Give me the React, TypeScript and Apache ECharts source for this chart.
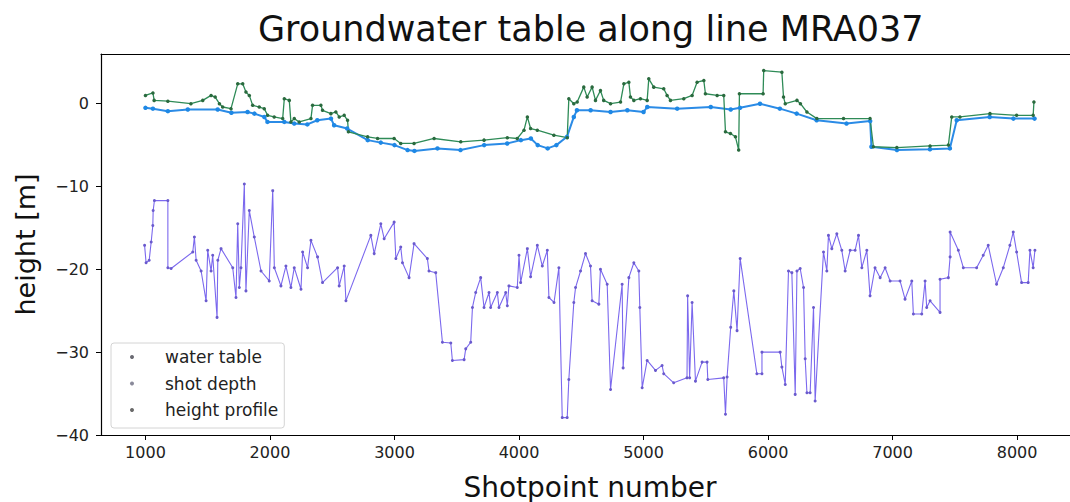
import React, { useEffect, useRef } from "react";
import * as echarts from "echarts";

// [shotpoint, height in m]
const waterTable: [number, number][] = [
  [1000, -0.5], [1060, -0.6], [1180, -0.9], [1340, -0.7], [1580, -0.7], [1690, -1.1],
  [1820, -1.0], [1875, -1.2], [1955, -1.6], [1980, -2.2], [2115, -2.2], [2195, -2.4],
  [2300, -2.5], [2380, -2.0], [2490, -1.8], [2515, -2.6], [2620, -3.0], [2785, -4.4],
  [2890, -4.7], [3000, -5.0], [3105, -5.6], [3160, -5.7], [3345, -5.4], [3530, -5.6],
  [3720, -5.0], [3905, -4.8], [4015, -4.4], [4095, -4.2], [4150, -5.0], [4230, -5.4],
  [4300, -5.0], [4385, -4.0], [4440, -1.6], [4465, -0.8], [4575, -0.8], [4735, -1.0],
  [4870, -0.8], [5000, -1.0], [5030, -0.4], [5270, -0.6], [5540, -0.4], [5700, -0.7],
  [5775, -0.5], [5935, 0.0], [6095, -0.6], [6230, -1.2], [6390, -2.0], [6630, -2.4],
  [6820, -2.1], [6830, -5.2], [7035, -5.6], [7300, -5.5], [7460, -5.4], [7515, -2.0],
  [7780, -1.6], [7970, -1.8], [8140, -1.8],
];

const shotDepth: [number, number][] = [
  [993, -17.1], [1005, -19.2], [1030, -18.9], [1046, -16.7], [1059, -14.7], [1062, -12.9],
  [1072, -11.7], [1180, -11.7], [1180, -19.8], [1206, -19.9], [1380, -17.9], [1393, -16.1],
  [1407, -18.9], [1447, -20.2], [1487, -23.8], [1500, -17.7], [1527, -20.2], [1540, -18.3],
  [1575, -25.8], [1581, -18.9], [1607, -17.5], [1701, -19.8], [1727, -23.4], [1741, -14.5],
  [1754, -22.2], [1767, -19.8], [1794, -9.7], [1807, -22.6], [1834, -12.9], [1874, -16.1],
  [1928, -20.2], [1994, -21.4], [2022, -10.5], [2035, -19.8], [2088, -22.0], [2128, -19.6],
  [2168, -22.2], [2195, -19.8], [2249, -22.4], [2262, -17.9], [2302, -19.8], [2329, -16.5],
  [2382, -18.5], [2422, -21.6], [2543, -19.8], [2556, -22.0], [2596, -19.6], [2610, -23.8],
  [2810, -15.9], [2837, -18.1], [2890, -14.5], [2917, -16.3], [2997, -14.3], [3011, -18.7],
  [3050, -17.3], [3064, -19.2], [3117, -21.0], [3157, -16.9], [3264, -18.7], [3277, -20.2],
  [3331, -20.4], [3385, -28.8], [3452, -28.9], [3465, -31.0], [3559, -30.9], [3572, -29.6],
  [3612, -28.8], [3626, -24.6], [3652, -22.8], [3692, -21.0], [3719, -24.6], [3759, -22.8],
  [3772, -24.6], [3826, -22.8], [3839, -24.6], [3893, -22.8], [3906, -24.4], [3919, -22.0],
  [3986, -22.2], [4000, -18.3], [4013, -21.6], [4067, -17.5], [4093, -20.9], [4147, -17.1],
  [4187, -19.6], [4227, -17.7], [4240, -23.4], [4281, -24.0], [4320, -19.8], [4347, -37.9],
  [4387, -37.9], [4400, -33.3], [4440, -24.0], [4454, -22.2], [4494, -20.2], [4534, -18.1],
  [4574, -19.6], [4587, -23.8], [4641, -24.2], [4654, -20.0], [4708, -21.8], [4735, -34.5],
  [4828, -21.8], [4836, -31.9], [4882, -21.0], [4922, -19.2], [4962, -20.2], [4970, -24.6],
  [4989, -34.3], [5029, -31.0], [5096, -32.2], [5149, -31.6], [5162, -32.6], [5242, -33.7],
  [5349, -33.1], [5354, -23.2], [5370, -33.1], [5390, -24.0], [5417, -33.5], [5470, -31.2],
  [5510, -31.2], [5516, -33.3], [5644, -33.1], [5658, -37.5], [5671, -33.0], [5700, -27.0],
  [5725, -22.6], [5751, -27.4], [5776, -18.7], [5910, -32.6], [5951, -32.6], [5951, -30.0],
  [6097, -30.0], [6111, -31.8], [6138, -33.9], [6164, -20.2], [6191, -20.4], [6218, -35.1],
  [6232, -20.2], [6258, -19.9], [6285, -22.2], [6298, -30.8], [6312, -34.9], [6338, -34.9],
  [6365, -24.6], [6378, -35.9], [6445, -17.9], [6472, -20.2], [6485, -15.9], [6512, -17.5],
  [6552, -15.7], [6592, -17.7], [6619, -20.2], [6659, -17.7], [6699, -17.7], [6726, -15.9],
  [6753, -19.8], [6793, -17.7], [6819, -23.2], [6859, -19.8], [6900, -21.0], [6940, -19.8],
  [6980, -21.4], [7060, -21.4], [7100, -23.6], [7154, -21.4], [7167, -25.4], [7234, -25.4],
  [7261, -21.4], [7274, -24.6], [7301, -23.8], [7381, -25.2], [7381, -21.2], [7448, -21.0],
  [7462, -18.5], [7462, -15.5], [7528, -17.7], [7568, -19.8], [7675, -19.8], [7728, -18.3],
  [7768, -17.1], [7835, -21.8], [7889, -19.8], [7942, -17.1], [7969, -15.5], [7996, -17.9],
  [8036, -21.6], [8089, -21.6], [8103, -17.7], [8129, -19.8], [8143, -17.7],
];

const heightProfile: [number, number][] = [
  [1000, 1.0], [1060, 1.3], [1070, 0.4], [1180, 0.3], [1365, 0.0], [1460, 0.4],
  [1527, 1.0], [1560, 0.8], [1594, 0.0], [1620, -0.4], [1687, -0.6], [1741, 2.4],
  [1781, 2.4], [1807, 1.4], [1834, 1.0], [1861, -0.2], [1914, -0.4], [1954, -0.6],
  [1981, -1.4], [2034, -1.6], [2102, -1.8], [2115, 0.6], [2155, 0.4], [2168, -2.2],
  [2195, -1.8], [2235, -2.2], [2329, -1.8], [2342, -0.2], [2409, -0.2], [2422, -0.8],
  [2489, -1.2], [2529, -1.0], [2556, -1.6], [2596, -1.4], [2623, -2.0], [2630, -3.4],
  [2784, -4.0], [2864, -4.2], [2997, -4.2], [3050, -4.8], [3157, -4.8], [3318, -4.2],
  [3532, -4.6], [3719, -4.4], [3906, -4.1], [3986, -4.2], [4040, -3.2], [4067, -1.6],
  [4093, -3.0], [4147, -3.2], [4280, -3.8], [4387, -4.1], [4400, 0.6], [4440, 0.0],
  [4467, 0.2], [4520, 2.0], [4547, 0.8], [4587, 2.0], [4614, 0.4], [4654, 1.6],
  [4680, 0.4], [4735, 0.0], [4815, 0.2], [4842, 2.4], [4882, 2.6], [4895, 0.8],
  [4922, 0.4], [4975, 0.6], [5029, 0.4], [5042, 3.0], [5082, 2.0], [5162, 1.8],
  [5189, 1.0], [5216, 0.4], [5323, 0.6], [5390, 1.0], [5430, 2.6], [5484, 2.8],
  [5497, 1.2], [5591, 1.0], [5644, 1.0], [5658, -3.4], [5698, -3.6], [5738, -4.0],
  [5764, -5.6], [5770, 1.2], [5960, 1.2], [5965, 4.0], [6111, 3.8], [6124, 0.8],
  [6138, 0.0], [6232, 0.4], [6260, 0.0], [6312, -1.0], [6392, -1.8], [6606, -1.8],
  [6819, -1.8], [6846, -5.2], [7034, -5.3], [7301, -5.1], [7448, -5.0], [7475, -1.6],
  [7541, -1.6], [7782, -1.2], [7996, -1.4], [8129, -1.4], [8135, 0.2],
];

const xTicks = [1000, 2000, 3000, 4000, 5000, 6000, 7000, 8000];
const yTicks = [-40, -30, -20, -10, 0];

const FONT = "DejaVu Sans";

export default function App() {
  const ref = useRef<HTMLDivElement>(null);

  useEffect(() => {
    if (!ref.current) return;
    const chart = echarts.init(ref.current, undefined, { renderer: "svg" });

    const lineSeries = (
      name: string,
      data: [number, number][],
      lineColor: string,
      markColor: string,
      lineWidth: number,
      symbolSize: number
    ) => ({
      name,
      type: "line",
      data,
      showSymbol: true,
      symbol: "circle",
      symbolSize,
      lineStyle: { color: lineColor, width: lineWidth },
      itemStyle: { color: markColor, borderWidth: 0 },
      emphasis: { disabled: true },
      z: 2,
    });

    const spine = { show: true, onZero: false, lineStyle: { color: "#000", width: 1.2 } };

    chart.setOption({
      animation: false,
      backgroundColor: "#ffffff",
      title: {
        text: "Groundwater table along line MRA037",
        left: 258,
        top: 11,
        padding: 0,
        textStyle: { fontFamily: FONT, fontSize: 35, fontWeight: "normal", color: "#111" },
      },
      grid: {
        left: 101,
        top: 54,
        width: 978,
        height: 381,
        outerBoundsMode: "none",
        containLabel: false,
        show: false,
      },
      legend: {
        orient: "vertical",
        left: 111,
        top: 343,
        padding: [4, 6, 8, 19],
        itemWidth: 4,
        itemHeight: 4,
        itemGap: 6.5,
        icon: "circle",
        backgroundColor: "rgba(255,255,255,0.85)",
        borderColor: "#d4d4d4",
        borderWidth: 1,
        borderRadius: 3,
        textStyle: {
          fontFamily: FONT,
          fontSize: 17,
          color: "#222",
          lineHeight: 20,
          padding: [0, 0, 0, 26],
        },
        data: [
          { name: "water table", itemStyle: { color: "#6a6a72" } },
          { name: "shot depth", itemStyle: { color: "#8a8a9a" } },
          { name: "height profile", itemStyle: { color: "#6a6a6a" } },
        ],
      },
      xAxis: [
        {
          type: "value",
          position: "bottom",
          min: 643,
          max: 8497,
          name: "Shotpoint number",
          nameLocation: "middle",
          nameGap: 38,
          nameTextStyle: { fontFamily: FONT, fontSize: 28, color: "#111" },
          axisLine: spine,
          axisTick: { show: true, length: 5, customValues: xTicks, lineStyle: { color: "#000" } },
          axisLabel: {
            customValues: xTicks,
            margin: 9,
            fontFamily: FONT,
            fontSize: 16,
            color: "#222",
            formatter: (v: number) => String(v),
          },
          splitLine: { show: false },
        },
        {
          // top frame line
          type: "value",
          position: "top",
          min: 643,
          max: 8497,
          axisLine: spine,
          axisTick: { show: false },
          axisLabel: { show: false },
          splitLine: { show: false },
        },
      ],
      yAxis: {
        type: "value",
        min: -40,
        max: 6,
        name: "height [m]",
        nameLocation: "middle",
        nameGap: 62,
        nameRotate: 90,
        nameTextStyle: { fontFamily: FONT, fontSize: 27, color: "#111" },
        axisLine: spine,
        axisTick: { show: true, length: 5, customValues: yTicks, lineStyle: { color: "#000" } },
        axisLabel: {
          customValues: yTicks,
          margin: 12,
          fontFamily: FONT,
          fontSize: 16,
          color: "#222",
          formatter: (v: number) => (v < 0 ? "\u2212" + Math.abs(v) : String(v)),
        },
        splitLine: { show: false },
      },
      series: [
        lineSeries("water table", waterTable, "#2b8be6", "#1e88e5", 2, 4.5),
        lineSeries("shot depth", shotDepth, "#7b68ee", "#6a5acd", 1.1, 3),
        lineSeries("height profile", heightProfile, "#2e8b57", "#2a6a3e", 1.3, 3.5),
      ],
    });

    return () => chart.dispose();
  }, []);

  return (
    <div
      style={{
        position: "fixed",
        left: 0,
        top: 0,
        width: 1070,
        height: 502,
        overflow: "hidden",
        background: "#fff",
      }}
    >
      <div ref={ref} style={{ width: 1100, height: 502 }} />
    </div>
  );
}
